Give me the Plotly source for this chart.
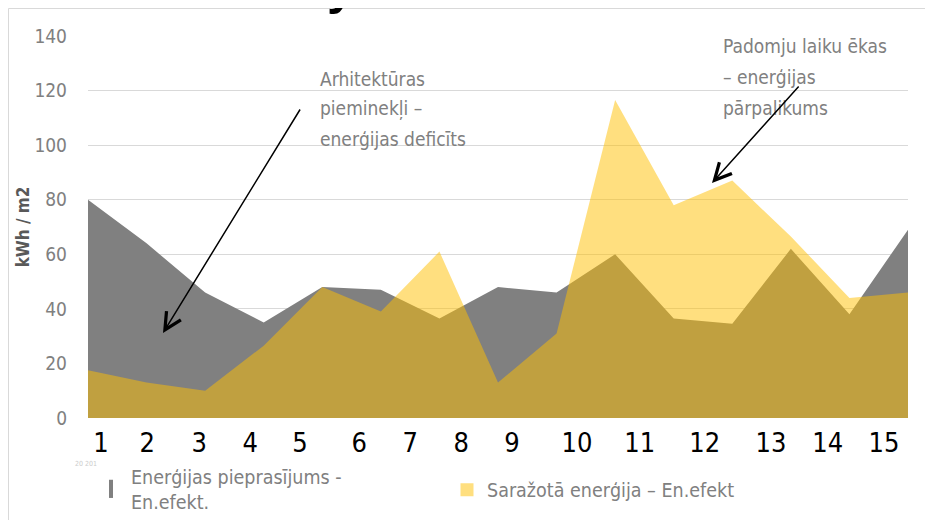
import plotly.graph_objects as go

# ---- data ----
points = list(range(1, 16))
demand = [80, 64, 46, 35, 48, 47, 36.5, 48, 46, 60, 36.5, 34.5, 62, 38, 69]
produced = [17.5, 13, 10, 26.5, 48, 39, 61, 13, 31, 116.5, 78, 87, 66.5, 44, 46]
tick_labels = [str(i) for i in range(1, 16)]
y_ticks = [0, 20, 40, 60, 80, 100, 120, 140]
name_demand = "Enerģijas pieprasījums -<br>En.efekt."
name_produced = "Saražotā enerģija – En.efekt"
y_title = "kWh / m2"
note_left_lines = ["Arhitektūras", "pieminekļi –", "enerģijas deficīts"]
note_right_lines = ["Padomju laiku ēkas", "– enerģijas", "pārpalikums"]

# ---- layout constants ----
# the page adds an 8px body margin, so the figure is 8px smaller than the window
OFF = 8
W, H = 933 - OFF, 520 - OFF
ML, MR, MT, MB = 88 - OFF, 25, 36 - OFF, 102
PW, PH = W - ML - MR, H - MT - MB
FONT = "DejaVu Sans Condensed, Liberation Sans Narrow, sans-serif"
GRAY = "#808080"
YELLOW = "rgba(255,192,0,0.5)"
# x tick label positions (the reference's labels are not aligned with the points)
XTICK_POS = [1.22, 2.01, 2.90, 3.77, 4.62, 5.63, 6.50, 7.37, 8.24, 9.35,
             10.42, 11.53, 12.66, 13.63, 14.59]


def px(x):  # window pixel -> paper x
    return (x - OFF - ML) / PW


def py(y):  # window pixel -> paper y
    return (H - MB - (y - OFF)) / PH


def cx(x):  # window pixel -> container x
    return (x - OFF) / W


def cy(y):  # window pixel -> container y
    return (H - (y - OFF)) / H


fig = go.Figure()
fig.add_trace(go.Scatter(x=points, y=demand, mode="lines", fill="tozeroy",
                         line=dict(width=0, color=GRAY), fillcolor=GRAY,
                         showlegend=False, name=name_demand))
fig.add_trace(go.Scatter(x=points, y=produced, mode="lines", fill="tozeroy",
                         line=dict(width=0, color=YELLOW), fillcolor=YELLOW,
                         showlegend=False, name=name_produced))
# legend entries
fig.add_trace(go.Scatter(x=[None], y=[None], mode="markers", name=name_demand,
                         legend="legend",
                         marker=dict(symbol="line-ns", size=13,
                                     line=dict(width=4, color=GRAY))))
fig.add_trace(go.Scatter(x=[None], y=[None], mode="markers", name=name_produced,
                         legend="legend2",
                         marker=dict(symbol="square", size=13, color=YELLOW,
                                     line=dict(width=0))))

ann_font = dict(family=FONT, size=19, color="#808080")
annotations = []
for i, line in enumerate(note_left_lines):
    annotations.append(dict(xref="paper", yref="paper", x=px(318),
                            y=py(79 + 30 * i), xanchor="left", yanchor="middle",
                            text=line, showarrow=False, font=ann_font))
for i, line in enumerate(note_right_lines):
    annotations.append(dict(xref="paper", yref="paper", x=px(721),
                            y=py(46 + 31 * i), xanchor="left", yanchor="middle",
                            text=line, showarrow=False, font=ann_font))
annotations += [
    dict(xref="paper", yref="paper", x=px(163), y=py(333), ax=301 - 163,
         ay=108 - 333, text="", showarrow=True, arrowhead=5, arrowsize=2.2,
         arrowwidth=1.5, arrowcolor="black", standoff=0),
    dict(xref="paper", yref="paper", x=px(712), y=py(183), ax=800 - 712,
         ay=85 - 183, text="", showarrow=True, arrowhead=5, arrowsize=2.2,
         arrowwidth=1.5, arrowcolor="black", standoff=0),
    dict(xref="paper", yref="paper", x=px(341), y=py(17), xanchor="center",
         yanchor="bottom", text="<b>y</b>", showarrow=False,
         font=dict(family="Liberation Sans, Arial, sans-serif", size=50,
                   color="black")),
    dict(xref="paper", yref="paper", x=px(73), y=py(464), xanchor="left",
         yanchor="middle", text="20 201", showarrow=False,
         font=dict(family=FONT, size=7, color="#cccccc")),
]

shapes = [
    dict(type="rect", xref="paper", yref="paper", x0=px(8.5), x1=px(960),
         y0=py(560), y1=py(8.5), line=dict(color="#d9d9d9", width=1),
         fillcolor="rgba(0,0,0,0)", layer="below"),
]

leg_font = dict(family=FONT, size=19.5, color="#808080")
fig.update_layout(
    width=W, height=H,
    margin=dict(l=ML, r=MR, t=MT, b=MB, autoexpand=False),
    paper_bgcolor="white", plot_bgcolor="white",
    font=dict(family=FONT, color="#808080"),
    xaxis=dict(range=[1, 15], tickmode="array", tickvals=XTICK_POS,
               ticktext=tick_labels, showgrid=False, zeroline=False,
               showline=False, ticks="", ticklabelstandoff=6,
               automargin=False,
               tickfont=dict(family=FONT, size=27, color="black")),
    yaxis=dict(range=[0, 140], tickmode="array", tickvals=y_ticks,
               showgrid=True, gridcolor="#d9d9d9", gridwidth=1,
               zeroline=False, showline=False, ticks="",
               ticklabelstandoff=20, automargin=False,
               tickfont=dict(family=FONT, size=19, color="#808080"),
               title=dict(text=y_title, standoff=0,
                          font=dict(family=FONT, size=17, color="#595959",
                                    weight="bold"))),
    legend=dict(orientation="h", xref="container", yref="container",
                x=cx(91), xanchor="left", y=cy(489), yanchor="middle",
                font=leg_font, bgcolor="rgba(0,0,0,0)", itemclick=False),
    legend2=dict(orientation="h", xref="container", yref="container",
                 x=cx(447), xanchor="left", y=cy(490), yanchor="middle",
                 font=leg_font, bgcolor="rgba(0,0,0,0)", itemclick=False),
    annotations=annotations,
    shapes=shapes,
    hovermode=False,
)

fig.write_html("out.html")
